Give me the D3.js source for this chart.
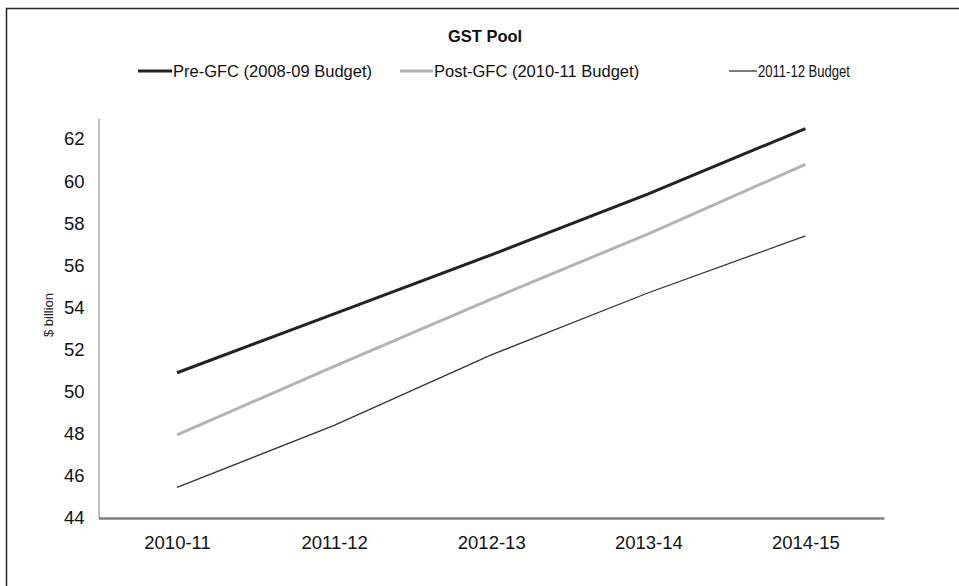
<!DOCTYPE html>
<html>
<head>
<meta charset="utf-8">
<script src="https://cdn.jsdelivr.net/npm/d3@7"></script>
<style>
  body { margin: 0; background: #fff; }
  svg text { font-family: "Liberation Sans", Arial, sans-serif; }
</style>
</head>
<body>
<svg id="chart" width="959" height="586"></svg>
<script>
// data
var years = ["2010-11", "2011-12", "2012-13", "2013-14", "2014-15"];
var preGFC = [50.9, 53.7, 56.5, 59.4, 62.5];
var postGFC = [47.95, 51.2, 54.4, 57.5, 60.8];
var budget1112 = [45.45, 48.4, 51.75, 54.7, 57.4];
var seriesNames = ["Pre-GFC (2008-09 Budget)", "Post-GFC (2010-11 Budget)", "2011-12 Budget"];
var yTicks = [44, 46, 48, 50, 52, 54, 56, 58, 60, 62];

var svg = d3.select('#chart');

var margin = { top: 118, left: 98.5, bottom: 518, right: 884 };

// frame round the whole chart
svg.append('rect')
    .attr('x', 6.5).attr('y', 8.5)
    .attr('width', 970).attr('height', 600)
    .attr('fill', 'none')
    .attr('stroke', '#222')
    .attr('stroke-width', 1.5);

var x = d3.scalePoint()
    .domain(years)
    .range([margin.left, margin.right])
    .padding(0.5);

var y = d3.scaleLinear()
    .domain([44, 63])
    .range([margin.bottom, margin.top]);

var series = [
    { name: seriesNames[0], values: preGFC, color: '#222222', width: 3 },
    { name: seriesNames[1], values: postGFC, color: '#b3b3b3', width: 3 },
    { name: seriesNames[2], values: budget1112, color: '#333333', width: 1.3 }
];

// y axis
var yAxis = svg.append('g')
    .attr('transform', 'translate(' + margin.left + ',0)')
    .call(d3.axisLeft(y).tickValues(yTicks).tickSize(0).tickPadding(14));
yAxis.attr('font-family', null);
yAxis.select('.domain').attr('stroke', '#808080').attr('stroke-width', 1);
yAxis.selectAll('text')
    .attr('font-size', 18.5)
    .attr('fill', '#111');

// x axis
var xAxis = svg.append('g')
    .attr('transform', 'translate(0,' + margin.bottom + ')')
    .call(d3.axisBottom(x).tickSize(0).tickPadding(18));
xAxis.attr('font-family', null);
xAxis.select('.domain').attr('stroke', '#808080').attr('stroke-width', 2.5);
xAxis.selectAll('text')
    .attr('font-size', 18.5)
    .attr('fill', '#111');

// y axis title
svg.append('text')
    .attr('transform', 'translate(53,315) rotate(-90)')
    .attr('text-anchor', 'middle')
    .attr('font-size', 13)
    .attr('fill', '#222')
    .text('$ billion');

// lines
var line = d3.line()
    .x(function(d, i) { return x(years[i]); })
    .y(function(d) { return y(d); });

svg.append('g')
    .selectAll('path')
    .data(series)
    .enter()
    .append('path')
    .attr('d', function(d) { return line(d.values); })
    .attr('fill', 'none')
    .attr('stroke', function(d) { return d.color; })
    .attr('stroke-width', function(d) { return d.width; });

// title
svg.append('text')
    .attr('x', 485).attr('y', 42)
    .attr('text-anchor', 'middle')
    .attr('font-size', 16.5)
    .attr('font-weight', 'bold')
    .attr('fill', '#111')
    .text('GST Pool');

// legend
var legendX = [138, 400, 729];
var legendLen = [34, 33, 28];
var legend = svg.append('g')
    .selectAll('g')
    .data(series)
    .enter()
    .append('g')
    .attr('transform', function(d, i) { return 'translate(' + legendX[i] + ',71)'; });

legend.append('line')
    .attr('x1', 0)
    .attr('x2', function(d, i) { return legendLen[i]; })
    .attr('stroke', function(d) { return d.color; })
    .attr('stroke-width', function(d) { return d.width; });

legend.append('text')
    .attr('x', function(d, i) { return legendLen[i] + 1; })
    .attr('dy', '0.35em')
    .attr('font-size', 16.5)
    .attr('fill', '#111')
    .text(function(d) { return d.name; });

// the last legend entry is squeezed narrower in the original
legend.filter(function(d, i) { return i === 2; })
    .select('text')
    .attr('textLength', 92)
    .attr('lengthAdjust', 'spacingAndGlyphs');
</script>
</body>
</html>
